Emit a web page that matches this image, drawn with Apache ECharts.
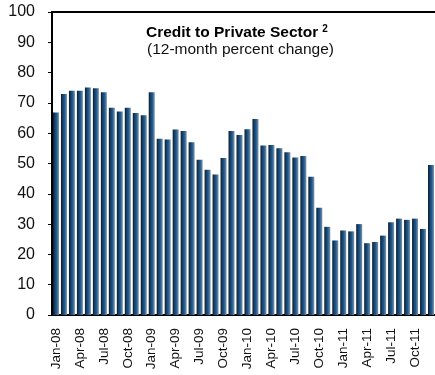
<!DOCTYPE html>
<html>
<head>
<meta charset="utf-8">
<script src="https://cdn.jsdelivr.net/npm/echarts@6/dist/echarts.min.js"></script>
<style>html,body{margin:0;padding:0;background:#fff}#c{width:435px;height:375px}</style>
</head>
<body>
<div id="c"></div>
<script>
var months = ['Jan','Feb','Mar','Apr','May','Jun','Jul','Aug','Sep','Oct','Nov','Dec'];
var years = ['08','09','10','11'];
var categories = [];
years.forEach(function(y){ months.forEach(function(m){ categories.push(m + '-' + y); }); });

var creditGrowth = [
  66.8, 72.9, 74.0, 74.0, 75.1, 74.8, 73.5, 68.4, 67.2, 68.4, 66.7, 65.9,
  73.5, 58.2, 57.9, 61.2, 60.7, 57.0, 51.2, 47.9, 46.4, 51.8, 60.7, 59.4,
  61.3, 64.7, 55.9, 56.1, 55.0, 53.7, 52.0, 52.5, 45.6, 35.4, 29.1, 24.6,
  27.9, 27.6, 30.0, 23.7, 24.1, 26.2, 30.6, 31.8, 31.4, 31.8, 28.4, 49.5
];

var yTicks = [0,10,20,30,40,50,60,70,80,90,100];
var titleText = 'Credit to Private Sector';
var subtitleText = '(12-month percent change)';

var chart = echarts.init(document.getElementById('c'), null, {renderer: 'canvas'});
var barGradient = new echarts.graphic.LinearGradient(0, 0, 1, 0, [
  {offset: 0, color: '#0a1a2c'},
  {offset: 0.3, color: '#173f66'},
  {offset: 0.6, color: '#1f5b8e'},
  {offset: 1, color: '#7d95ad'}
]);
chart.setOption({
  animation: false,
  grid: {left: 52, top: 12, bottom: 60, width: 385},
  xAxis: [{
    type: 'category',
    data: categories,
    axisLine: {lineStyle: {color: '#000', width: 2}},
    axisTick: {show: false},
    axisLabel: {
      interval: 2, rotate: 90, margin: 13,
      fontFamily: 'Liberation Sans, Arial, sans-serif', fontSize: 13.5, color: '#111'
    }
  }, {
    type: 'category',
    position: 'top',
    data: categories,
    axisLine: {lineStyle: {color: '#000', width: 2}},
    axisTick: {show: false},
    axisLabel: {show: false}
  }],
  yAxis: {
    type: 'value', min: 0, max: 100, interval: 10,
    axisLine: {show: true, lineStyle: {color: '#000', width: 2}},
    axisTick: {show: true, length: 4, lineStyle: {color: '#000'}},
    splitLine: {show: false},
    axisLabel: {
      margin: 17, fontFamily: 'Liberation Sans, Arial, sans-serif', fontSize: 16, color: '#111',
      formatter: function(v){ return yTicks.indexOf(v) >= 0 ? String(v) : ''; }
    }
  },
  graphic: [
    {type: 'text', left: 146, top: 24, style: {
      text: '{b|' + titleText + '}{s|2}',
      rich: {
        b: {fontFamily: 'Liberation Sans, Arial, sans-serif', fontWeight: 'bold', fontSize: 15.5, fill: '#000'},
        s: {fontFamily: 'Liberation Sans, Arial, sans-serif', fontWeight: 'bold', fontSize: 10, fill: '#000', padding: [0,0,7,4]}
      }
    }},
    {type: 'text', left: 147, top: 42, style: {
      text: subtitleText, fontFamily: 'Liberation Sans, Arial, sans-serif', fontSize: 15.5, fill: '#111'
    }}
  ],
  series: [{
    type: 'bar',
    data: creditGrowth,
    barWidth: 6,
    itemStyle: {color: barGradient}
  }]
});
</script>
</body>
</html>
